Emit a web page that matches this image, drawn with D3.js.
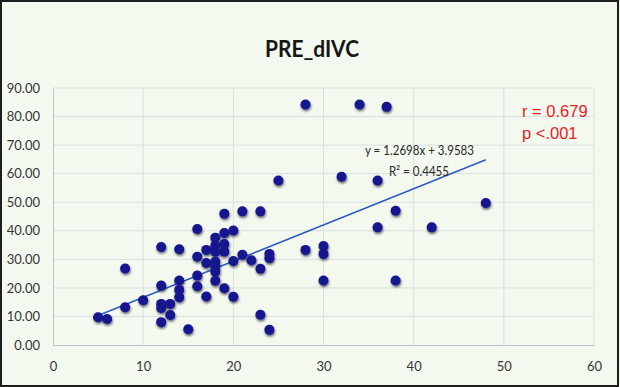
<!DOCTYPE html>
<html>
<head>
<meta charset="utf-8">
<script src="https://cdn.jsdelivr.net/npm/d3@7"></script>
<style>
  html, body { margin: 0; padding: 0; background: #ffffff; }
  svg { display: block; }
</style>
</head>
<body>
<svg id="chart" width="620" height="387"></svg>
<script>
// PRE_dIVC scatter values
const xVals = [5,6,8,8,10,12,12,12,12,12,13,13,14,14,14,14,15,16,16,16,16,17,17,17,18,18,18,18,18,18,18,19,19,19,19,19,20,20,20,21,21,22,23,23,23,24,24,24,25,28,28,30,30,30,32,34,36,36,37,38,38,42,48];
const yVals = [9.7,9.1,26.8,13.2,15.7,34.3,20.8,14.4,13.0,8.0,14.4,10.5,33.5,22.6,19.3,16.7,5.5,40.6,30.9,24.3,20.6,33.3,28.7,17.0,37.6,34.8,32.7,29.2,27.5,25.7,22.5,46.0,39.2,35.4,32.7,19.9,40.1,29.4,16.9,46.8,31.6,29.7,46.8,26.7,10.6,31.9,30.4,5.3,57.6,84.2,33.3,34.7,31.9,22.6,58.9,84.2,57.6,41.2,83.4,47.0,22.6,41.2,49.7];

// Linear trendline
const slope = 1.2698;
const intercept = 3.9583;
const rSquared = 0.4455;

// Axis ticks
const xTicks = [0, 10, 20, 30, 40, 50, 60];
const yTicks = [0, 10, 20, 30, 40, 50, 60, 70, 80, 90];

const titleText = "PRE_dIVC";
const statLines = ["r = 0.679", "p <.001"];

const points = xVals.map((x, i) => ({ x: x, y: yVals[i] }));

const svg = d3.select("#chart");
const W = 620, H = 387;

// Page background and frame
svg.append("rect").attr("x", 0).attr("y", 0).attr("width", W).attr("height", H).attr("fill", "#f3f9ef");
svg.append("rect").attr("x", 1).attr("y", 1).attr("width", W - 3).attr("height", H - 2)
  .attr("fill", "none").attr("stroke", "#1e1e1e").attr("stroke-width", 2);

const x = d3.scaleLinear().domain([0, 60]).range([53, 594]);
const y = d3.scaleLinear().domain([0, 90]).range([345, 88]);

// Shadow under the markers
const defs = svg.append("defs");
const f = defs.append("filter").attr("id", "mshadow").attr("x", "-50%").attr("y", "-50%").attr("width", "200%").attr("height", "200%");
f.append("feDropShadow").attr("dx", 0.6).attr("dy", 1.8).attr("stdDeviation", 1.2)
  .attr("flood-color", "#000018").attr("flood-opacity", 0.6);

// Gridlines
const grid = svg.append("g");
grid.selectAll("line.h").data(yTicks.filter(d => d > 0)).join("line")
  .attr("x1", x(0)).attr("x2", x(60))
  .attr("y1", d => y(d)).attr("y2", d => y(d))
  .attr("stroke", "#d9e1e0").attr("stroke-width", 1);
grid.selectAll("line.v").data(xTicks.filter(d => d > 0)).join("line")
  .attr("y1", y(0)).attr("y2", y(90))
  .attr("x1", d => x(d)).attr("x2", d => x(d))
  .attr("stroke", "#d9e1e0").attr("stroke-width", 1);

// Axes
const yAxis = svg.append("g").attr("transform", `translate(${x(0)},0)`)
  .call(d3.axisLeft(y).tickValues(yTicks).tickFormat(d3.format(".2f")).tickSize(0).tickPadding(13));
const xAxis = svg.append("g").attr("transform", `translate(0,${y(0)})`)
  .call(d3.axisBottom(x).tickValues(xTicks).tickFormat(d3.format("d")).tickSize(0).tickPadding(17));
[yAxis, xAxis].forEach(g => {
  g.select(".domain").attr("stroke", "#b9c6cc").attr("stroke-width", 1);
  g.selectAll("text").attr("fill", "#363636").attr("font-family", "Lato, 'Open Sans', sans-serif").attr("font-size", 13);
});

// Trendline over the data range
const [xmin, xmax] = d3.extent(xVals);
svg.append("line")
  .attr("x1", x(xmin)).attr("y1", y(slope * xmin + intercept))
  .attr("x2", x(xmax)).attr("y2", y(slope * xmax + intercept))
  .attr("stroke", "#2f5dbd").attr("stroke-width", 1.6);

// Markers
svg.append("g").attr("filter", "url(#mshadow)")
  .selectAll("circle").data(points).join("circle")
  .attr("cx", d => x(d.x)).attr("cy", d => y(d.y)).attr("r", 5)
  .attr("fill", "#13138f");

// Title
svg.append("text").attr("x", 312).attr("y", 57).attr("text-anchor", "middle")
  .attr("font-family", "Lato, 'Open Sans', sans-serif").attr("font-weight", 700)
  .attr("font-size", 23).attr("fill", "#161616")
  .attr("textLength", 94).attr("lengthAdjust", "spacingAndGlyphs")
  .text(titleText);

// Trendline equation
const eqText = `y = ${slope}x + ${intercept}`;
svg.append("text").attr("x", 419.5).attr("y", 155).attr("text-anchor", "middle")
  .attr("font-family", "Lato, 'Open Sans', sans-serif").attr("font-size", 14).attr("fill", "#2a2a2a")
  .attr("textLength", 109).attr("lengthAdjust", "spacingAndGlyphs")
  .text(eqText);
svg.append("text").attr("x", 419).attr("y", 176).attr("text-anchor", "middle")
  .attr("font-family", "Lato, 'Open Sans', sans-serif").attr("font-size", 14).attr("fill", "#2a2a2a")
  .attr("textLength", 60).attr("lengthAdjust", "spacingAndGlyphs")
  .text(`R² = ${rSquared}`);

// Correlation note
svg.selectAll("text.stat").data(statLines).join("text")
  .attr("class", "stat")
  .attr("x", 522).attr("y", (d, i) => 116.5 + i * 22.5)
  .attr("font-family", "'Liberation Sans', Arial, sans-serif").attr("font-size", 16.5)
  .attr("fill", "#e8221e")
  .text(d => d);
</script>
</body>
</html>
